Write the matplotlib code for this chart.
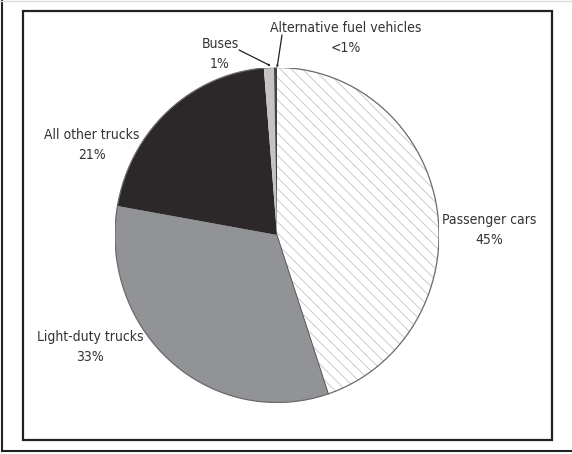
import matplotlib
matplotlib.use("Agg")
import matplotlib.pyplot as plt
from matplotlib.patches import Ellipse, FancyArrowPatch
from matplotlib.lines import Line2D
import numpy as np

categories = ["Passenger cars", "Light-duty trucks", "All other trucks", "Buses", "Alternative fuel vehicles"]
values = [45, 33, 21, 1, 0.3]
pct_labels = ["45%", "33%", "21%", "1%", "<1%"]
colors = ["white", "#929396", "#2c2829", "#c4c4c4", "#444444"]

W, H = 572, 454
fig = plt.figure(figsize=(W / 100, H / 100), dpi=100)
plt.rcParams["hatch.linewidth"] = 0.5

def px(x, y):
    return (x / W, 1 - y / H)

# pie axes (slightly taller than wide, as in reference)
cx, cy, rx, ry = 277, 235, 162, 167.5
ax = fig.add_axes([(cx - rx) / W, 1 - (cy + ry) / H, 2 * rx / W, 2 * ry / H])
wedges, _ = ax.pie(values, colors=colors, startangle=90, counterclock=False,
                   wedgeprops=dict(linewidth=0, edgecolor="none"), frame=False)
ax.set_aspect("auto")
ax.set_xlim(-1, 1)
ax.set_ylim(-1, 1)
ax.axis("off")

w0 = wedges[0]
w0.set_hatch("\\\\\\")
w0.set_edgecolor("#b8b8b8")
w0.set_linewidth(0)

# outline of the pie
ax.add_patch(Ellipse((0, 0), 2, 2, fill=False, edgecolor="#6a6a6a", linewidth=0.9, zorder=5))
# boundary between passenger cars and light-duty trucks
ang = np.deg2rad(wedges[0].theta1)
ax.plot([0, np.cos(ang)], [0, np.sin(ang)], color="#555555", lw=0.7, zorder=5)

# frames
fig.add_artist(plt.Rectangle(px(23, 440), (552 - 23) / W, (440 - 11) / H,
                             fill=False, edgecolor="#222222", linewidth=1.6,
                             transform=fig.transFigure))
fig.add_artist(Line2D([2 / W, 2 / W], [1 - 451 / H, 1], color="#222222", lw=1.5, transform=fig.transFigure))
fig.add_artist(Line2D([2 / W, 1], [1 - 451 / H, 1 - 451 / H], color="#222222", lw=1.5, transform=fig.transFigure))
fig.add_artist(Line2D([0, 1], [1 - 1 / H, 1 - 1 / H], color="#dddddd", lw=1.0, transform=fig.transFigure))

tkw = dict(family="DejaVu Sans", fontstretch="condensed", fontsize=10, color="#333333",
           ha="center", va="center", linespacing=1.5)
fig.text(*px(489, 230), categories[0] + "\n" + pct_labels[0], **tkw)
fig.text(*px(90, 347), categories[1] + "\n" + pct_labels[1], **tkw)
fig.text(*px(92, 145), categories[2] + "\n" + pct_labels[2], **tkw)
fig.text(*px(220, 54), categories[3] + "\n" + pct_labels[3], **tkw)
fig.text(*px(346, 38), categories[4] + "\n" + pct_labels[4], **tkw)

akw = dict(arrowstyle="-|>,head_length=0.9,head_width=0.35", color="#222222", lw=0.9,
           shrinkA=0, shrinkB=0)
fig.add_artist(FancyArrowPatch(px(239, 50), px(271, 66), transform=fig.transFigure, **akw))
fig.add_artist(FancyArrowPatch(px(282, 35), px(277, 68), transform=fig.transFigure, **akw))

fig.savefig("out.png", dpi=100)
